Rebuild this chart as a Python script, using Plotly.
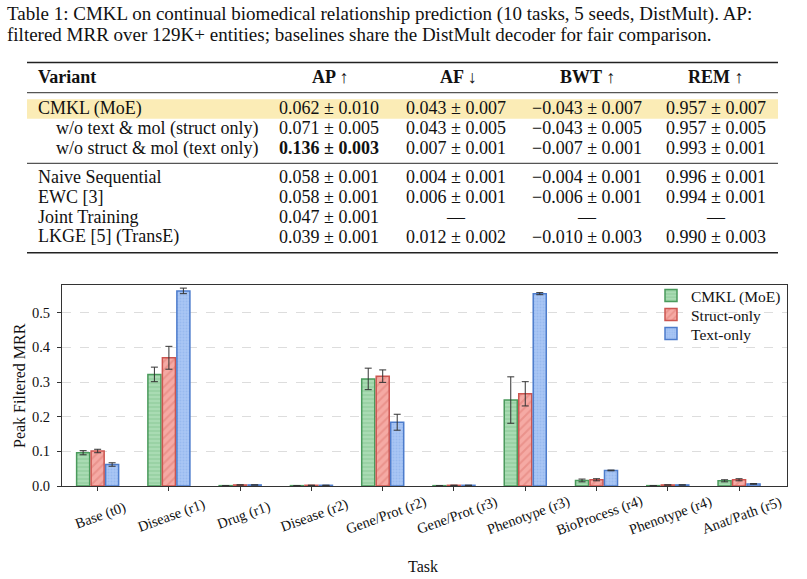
import plotly.graph_objects as go

# ---------------- Table data ----------------
caption_lines = [
    "Table 1: CMKL on continual biomedical relationship prediction (10 tasks, 5 seeds, DistMult). AP:",
    "filtered MRR over 129K+ entities; baselines share the DistMult decoder for fair comparison.",
]
table_header = ["Variant", "AP ↑", "AF ↓", "BWT ↑", "REM ↑"]
variants = ["CMKL (MoE)", "w/o text & mol (struct only)", "w/o struct & mol (text only)",
            "Naive Sequential", "EWC [3]", "Joint Training", "LKGE [5] (TransE)"]
variant_indent = [False, True, True, False, False, False, False]
ap_col = ["0.062 ± 0.010", "0.071 ± 0.005", "0.136 ± 0.003", "0.058 ± 0.001",
          "0.058 ± 0.001", "0.047 ± 0.001", "0.039 ± 0.001"]
ap_bold = [False, False, True, False, False, False, False]
af_col = ["0.043 ± 0.007", "0.043 ± 0.005", "0.007 ± 0.001", "0.004 ± 0.001",
          "0.006 ± 0.001", "—", "0.012 ± 0.002"]
bwt_col = ["−0.043 ± 0.007", "−0.043 ± 0.005", "−0.007 ± 0.001", "−0.004 ± 0.001",
           "−0.006 ± 0.001", "—", "−0.010 ± 0.003"]
rem_col = ["0.957 ± 0.007", "0.957 ± 0.005", "0.993 ± 0.001", "0.996 ± 0.001",
           "0.994 ± 0.001", "—", "0.990 ± 0.003"]

# ---------------- Chart data ----------------
tasks = ["Base (t0)", "Disease (r1)", "Drug (r1)", "Disease (r2)", "Gene/Prot (r2)",
         "Gene/Prot (r3)", "Phenotype (r3)", "BioProcess (r4)", "Phenotype (r4)", "Anat/Path (r5)"]
series_names = ["CMKL (MoE)", "Struct-only", "Text-only"]
cmkl_mrr = [0.096, 0.322, 0.001, 0.001, 0.309, 0.001, 0.248, 0.016, 0.001, 0.015]
cmkl_err = [0.006, 0.021, 0.0, 0.0, 0.031, 0.0, 0.067, 0.004, 0.0, 0.003]
struct_mrr = [0.101, 0.370, 0.003, 0.002, 0.317, 0.002, 0.266, 0.018, 0.003, 0.018]
struct_err = [0.005, 0.033, 0.0, 0.0, 0.018, 0.0, 0.035, 0.003, 0.0, 0.003]
text_mrr = [0.062, 0.563, 0.003, 0.002, 0.184, 0.002, 0.555, 0.045, 0.003, 0.006]
text_err = [0.005, 0.008, 0.0, 0.0, 0.023, 0.0, 0.003, 0.001, 0.0, 0.001]

y_ticks = [0.0, 0.1, 0.2, 0.3, 0.4, 0.5]

# ---------------- Layout constants ----------------
W, H = 807, 579
PL, PR, PT, PB = 62, 787, 285, 486
SERIF = "Liberation Serif, Times New Roman, serif"


def fx(px):
    return (px - PL) / (PR - PL)


def fy(py):
    return (PB - py) / (PB - PT)


styles = [
    dict(bg="#a9dbb3", fg="#7cc08a", edge="#4a9a5c", shape="-", size=4),
    dict(bg="#f5aaa4", fg="#e07b74", edge="#cc5550", shape="/", size=6),
    dict(bg="#a9c6f4", fg="#86abe9", edge="#4d7ccc", shape=".", size=3),
]
values = [cmkl_mrr, struct_mrr, text_mrr]
errors = [cmkl_err, struct_err, text_err]
legend_ids = ["legend", "legend2", "legend3"]
legend_rows = [296, 315, 334]

fig = go.Figure()
for name, vals, errs, st, lid in zip(series_names, values, errors, styles, legend_ids):
    fig.add_trace(go.Bar(
        name=name, x=tasks, y=vals, legend=lid,
        marker=dict(
            color=st["bg"],
            line=dict(color=st["edge"], width=1.5),
            pattern=dict(shape=st["shape"], fillmode="overlay", fgcolor=st["fg"],
                         bgcolor=st["bg"], size=st["size"], solidity=0.35),
        ),
        error_y=dict(type="data", array=errs, visible=True, color="#333333",
                     thickness=1, width=3.5),
    ))

annotations = []
shapes = []

# x tick labels (rotated, centred under ticks)
for t in tasks:
    annotations.append(dict(
        x=t, xref="x", y=fy(515), yref="paper", xshift=3,
        text=t, showarrow=False, textangle=-20,
        xanchor="center", yanchor="middle",
        font=dict(family=SERIF, size=14.5, color="#111111"),
    ))

# axis titles
annotations.append(dict(x=fx(423), y=fy(566), xref="paper", yref="paper", text="Task",
                        showarrow=False, xanchor="center", yanchor="middle",
                        font=dict(family=SERIF, size=16, color="#111111")))
annotations.append(dict(x=fx(19), y=fy(386), xref="paper", yref="paper",
                        text="Peak Filtered MRR", showarrow=False, textangle=-90,
                        xanchor="center", yanchor="middle",
                        font=dict(family=SERIF, size=16, color="#111111")))

# caption
for i, line in enumerate(caption_lines):
    annotations.append(dict(x=fx(5), y=fy(13.6 + 21.2 * i), xref="paper", yref="paper",
                            text=line, showarrow=False, xanchor="left", yanchor="middle",
                            font=dict(family=SERIF, size=19, color="#111111")))

# table geometry
TL, TR = 27, 778
col_centers = [329, 456.5, 587, 716]
header_y = 77
row_y = [108.3, 128.3, 148.3, 177.3, 197.0, 216.7, 236.6]
cell_font = dict(family=SERIF, size=18, color="#111111")

# highlight row
shapes.append(dict(type="rect", xref="paper", yref="paper", x0=fx(TL), x1=fx(TR),
                   y0=fy(118.7), y1=fy(99.3), fillcolor="#fbecb6", line=dict(width=0),
                   layer="below"))
# rules
for yy, wdt, col in [(62.5, 1.6, "#222222"), (92.7, 1.3, "#555555"),
                     (163.3, 1.3, "#555555"), (252.7, 1.6, "#222222")]:
    shapes.append(dict(type="line", xref="paper", yref="paper", x0=fx(TL), x1=fx(TR),
                       y0=fy(yy), y1=fy(yy), line=dict(color=col, width=wdt)))

# header
annotations.append(dict(x=fx(36), y=fy(header_y), xref="paper", yref="paper",
                        text="<b>" + table_header[0] + "</b>", showarrow=False,
                        xanchor="left", yanchor="middle", font=cell_font))
for hx, htxt in zip([330, 458, 587.5, 716], table_header[1:]):
    annotations.append(dict(x=fx(hx), y=fy(header_y), xref="paper", yref="paper",
                            text="<b>" + htxt + "</b>", showarrow=False,
                            xanchor="center", yanchor="middle", font=cell_font))

# body
for i, v in enumerate(variants):
    yy = row_y[i]
    annotations.append(dict(x=fx(54.3 if variant_indent[i] else 36), y=fy(yy),
                            xref="paper", yref="paper", text=v, showarrow=False,
                            xanchor="left", yanchor="middle", font=cell_font))
    cells = [ap_col[i], af_col[i], bwt_col[i], rem_col[i]]
    for j, (cx, c) in enumerate(zip(col_centers, cells)):
        txt = "<b>" + c + "</b>" if (j == 0 and ap_bold[i]) else c
        annotations.append(dict(x=fx(cx), y=fy(yy), xref="paper", yref="paper",
                                text=txt, showarrow=False, xanchor="center",
                                yanchor="middle", font=cell_font))

legend_layout = {}
for lid, ry in zip(legend_ids, legend_rows):
    legend_layout[lid] = dict(x=fx(651), y=fy(ry), xanchor="left", yanchor="middle",
                              bgcolor="rgba(0,0,0,0)", borderwidth=0,
                              font=dict(family=SERIF, size=15.5, color="#111111"),
                              itemwidth=30)

fig.update_layout(
    width=W, height=H,
    margin=dict(l=PL, r=W - PR, t=PT, b=H - PB, autoexpand=False),
    paper_bgcolor="white", plot_bgcolor="white",
    barmode="group", bargap=0.39, bargroupgap=0.1,
    font=dict(family=SERIF, size=14.5, color="#111111"),
    showlegend=True,
    annotations=annotations,
    shapes=shapes,
    **legend_layout,
)
fig.update_xaxes(
    showticklabels=False, ticks="outside", ticklen=4, tickcolor="#333333",
    showline=True, linecolor="#333333", linewidth=1.2, mirror=True,
    showgrid=False, zeroline=False, automargin=False,
)
fig.update_yaxes(
    range=[0, 0.58], tickvals=y_ticks, tickformat=".1f",
    ticks="outside", ticklen=4, tickcolor="#333333",
    tickfont=dict(family=SERIF, size=14.5, color="#111111"),
    showline=True, linecolor="#333333", linewidth=1.2, mirror=True,
    showgrid=True, gridcolor="#dddddd", griddash="dash", gridwidth=1,
    zeroline=False, automargin=False, ticklabelstandoff=4,
)

fig.write_html("out.html")
